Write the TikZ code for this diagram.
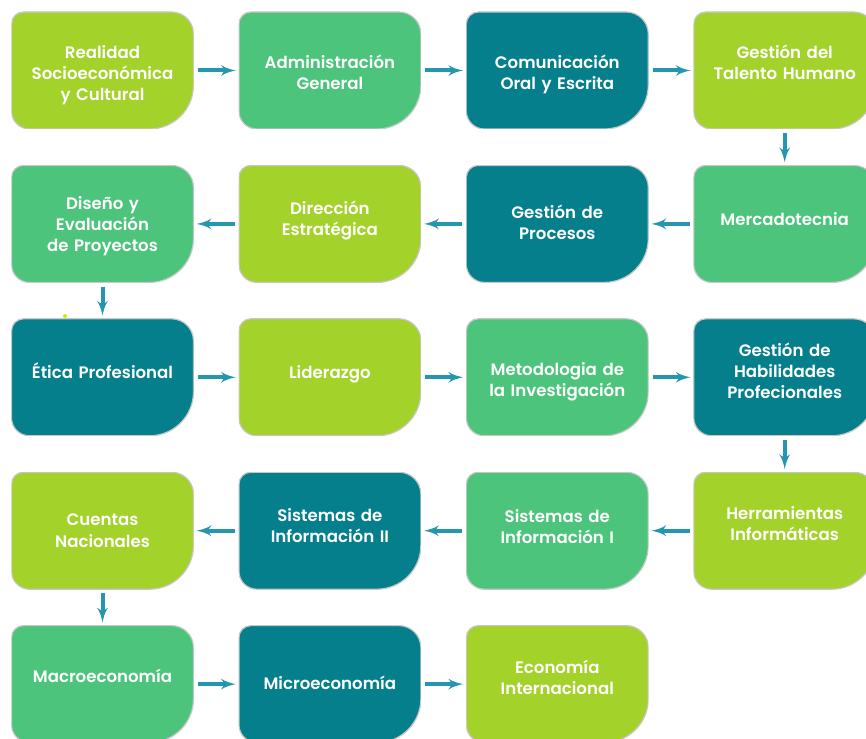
\documentclass[tikz,border=0pt]{standalone}
\usepackage{fontspec}
\setmainfont{Poppins}[UprightFont=* SemiBold]
\usepackage{tikz}
\usetikzlibrary{arrows, positioning}

\definecolor{lima}{HTML}{A3D22B}
\definecolor{verde}{HTML}{4CC47B}
\definecolor{azul}{HTML}{067F8D}
\definecolor{flecha}{HTML}{2596B0}

\begin{document}
\begin{tikzpicture}[
    x=1pt, y=1pt,
    node distance=36pt and 45pt,
    blob/.style={minimum width=182pt, minimum height=117pt, inner sep=0pt, text width=176pt, align=center, text=white, font=\fontsize{16.6}{21}\selectfont,
        path picture={\fill[#1, draw=black!22, line width=1.2pt]
            ([xshift=12pt]path picture bounding box.north west) -- ([xshift=-22pt]path picture bounding box.north east)
            arc[start angle=90, end angle=0, radius=22pt] -- ([yshift=44pt]path picture bounding box.south east)
            arc[start angle=0, end angle=-90, radius=44pt] -- ([xshift=18pt]path picture bounding box.south west)
            arc[start angle=270, end angle=180, radius=18pt] -- ([yshift=-12pt]path picture bounding box.north west)
            arc[start angle=180, end angle=90, radius=12pt] -- cycle;}},
    lift/.style={execute at end node={\endgraf\vspace*{#1}}},
    line/.style={draw=flecha, line width=4pt, -latex', shorten <=4pt, shorten >=3pt}
]
    \path[use as bounding box, fill=white] (0,0) rectangle (866,-738);

    % fila 1
    \node [blob=lima, lift=-10pt] (realidad) at (102.5,-70.5) {Realidad\\Socioeconómica\\y Cultural};
    \node [blob=verde, lift=-3pt, right=of realidad] (admin) {Administración\\General};
    \node [blob=azul, lift=-8pt, right=of admin] (comunic) {Comunicación\\Oral y Escrita};
    \node [blob=lima, lift=16pt, right=of comunic] (talento) {Gestión del\\Talento Humano};
    % fila 2
    \node [blob=verde, lift=10pt, below=of talento] (mercado) {Mercadotecnia};
    \node [blob=azul, lift=3pt, below=of comunic] (procesos) {Gestión de\\Procesos};
    \node [blob=lima, lift=6pt, below=of admin] (direccion) {Dirección\\Estratégica};
    \node [blob=verde, lift=-4pt, below=of realidad] (diseno) {Diseño y\\Evaluación\\de Proyectos};
    % fila 3
    \node [blob=azul, lift=14pt, below=of diseno] (etica) {Ética Profesional};
    \node [blob=lima, lift=6pt, below=of direccion] (liderazgo) {Liderazgo};
    \node [blob=verde, lift=-8pt, below=of procesos] (metodo) {Metodologia de\\la Investigación};
    \node [blob=azul, lift=14pt, below=of mercado] (habilidades) {Gestión de\\Habilidades\\Profecionales};
    % fila 4
    \node [blob=lima, lift=14pt, below=of habilidades] (herram) {Herramientas\\Informáticas};
    \node [blob=verde, lift=8pt, below=of metodo] (sis1) {Sistemas de\\Información I};
    \node [blob=azul, lift=10pt, below=of liderazgo] (sis2) {Sistemas de\\Información II};
    \node [blob=lima, below=of etica] (cuentas) {Cuentas\\Nacionales};
    % fila 5
    \node [blob=verde, lift=17pt, below=of cuentas] (macro) {Macroeconomía};
    \node [blob=azul, lift=2pt, below=of sis2] (micro) {Microeconomía};
    \node [blob=lima, lift=13pt, below=of sis1] (intern) {Economía\\Internacional};

    \foreach \a/\b in {realidad/admin, admin/comunic, comunic/talento, talento/mercado,
        mercado/procesos, procesos/direccion, direccion/diseno, diseno/etica,
        etica/liderazgo, liderazgo/metodo, metodo/habilidades, habilidades/herram,
        herram/sis1, sis1/sis2, sis2/cuentas, cuentas/macro, macro/micro, micro/intern}
        \path [line] (\a) -- (\b);

    \fill [yellow!85!green] (65,-316) circle (2pt);
\end{tikzpicture}
\end{document}
